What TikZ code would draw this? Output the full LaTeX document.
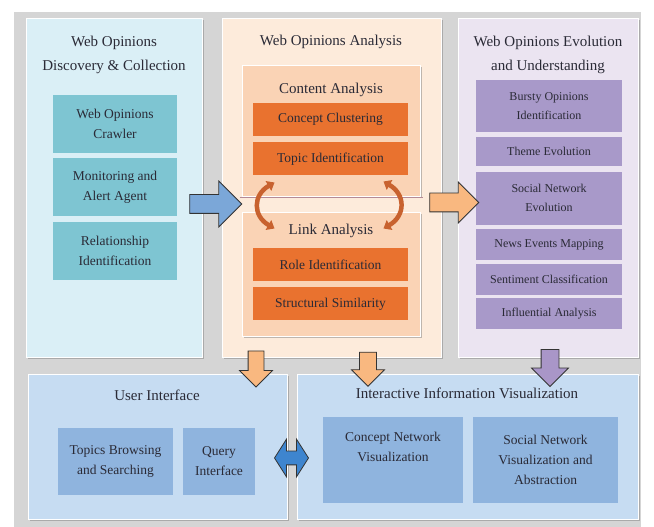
\documentclass[tikz,border=0pt]{standalone}
\usepackage{fontspec}
\setmainfont{Liberation Serif}
\usetikzlibrary{shapes.arrows,shadows,arrows.meta,positioning}

\definecolor{bggray}{HTML}{D5D5D5}
\definecolor{txtdark}{HTML}{2A2A36}
\definecolor{cyanpanel}{HTML}{DAEFF6}
\definecolor{tealbox}{HTML}{7EC5D2}
\definecolor{peachpanel}{HTML}{FDEBDB}
\definecolor{peachbox}{HTML}{FAD3B5}
\definecolor{orangebox}{HTML}{E9722F}
\definecolor{lilacpanel}{HTML}{EBE4F1}
\definecolor{purplebox}{HTML}{A899C9}
\definecolor{bluepanel}{HTML}{C6DCF2}
\definecolor{bluebox}{HTML}{8FB4DE}
\definecolor{arrblue}{HTML}{7BA7D8}
\definecolor{arrdeep}{HTML}{3E85CF}
\definecolor{arrorange}{HTML}{F9B880}
\definecolor{arrpurple}{HTML}{A996C8}
\definecolor{curvorange}{HTML}{C8622F}
\definecolor{mauve}{HTML}{B48A96}

\begin{document}
\begin{tikzpicture}[
    x=1pt, y=1pt,
    node distance=5pt,
    panel/.style={rectangle, draw=white, line width=1pt, drop shadow={shadow xshift=1.5pt, shadow yshift=-1.5pt, fill=black!50}},
    ttl/.style={align=center, text=txtdark, font=\fontsize{15}{24}\selectfont},
    item/.style={rectangle, align=center, inner sep=0pt, text=txtdark, font=\fontsize{13.5}{20}\selectfont},
    pitem/.style={item, fill=purplebox, minimum width=146pt, font=\fontsize{12}{19}\selectfont},
    oitem/.style={item, fill=orangebox, minimum width=155pt, minimum height=33pt},
    blkarrow/.style={single arrow, draw=black!80, line width=0.8pt},
    swirl/.style={line width=4.5pt, curvorange, {Triangle[width=11pt,length=7pt]}-{Triangle[width=11pt,length=7pt]}}
]
    % Frame
    \fill[white] (0,0) rectangle (654,527);
    \fill[bggray] (14,0) rectangle (641,515);
    \useasboundingbox (0,0) rectangle (654,527);

    % Discovery & collection
    \node[panel, fill=cyanpanel, minimum width=176pt, minimum height=339pt] (collect) at (114,338.5) {};
    \node[ttl] (collectT) at (114,472) {Web Opinions\\Discovery \& Collection};
    \node[item, fill=tealbox, minimum width=124pt, minimum height=58pt] (crawler) at (115,403) {Web Opinions\\Crawler};
    \node[item, fill=tealbox, minimum width=124pt, minimum height=58pt, below=of crawler] (monitor) {Monitoring and\\Alert Agent};
    \node[item, fill=tealbox, minimum width=124pt, minimum height=58pt, below=of monitor] (relation) {Relationship\\Identification};

    % Analysis
    \node[panel, fill=peachpanel, minimum width=219pt, minimum height=339pt] (analysis) at (331.5,338.5) {};
    \node[ttl] (analysisT) at (331,485) {Web Opinions Analysis};
    \node[panel, fill=peachbox, minimum width=178pt, minimum height=131pt] (content) at (331,395.5) {};
    \node[ttl] (contentT) at (331,437) {Content Analysis};
    \node[oitem] (cluster) at (330.5,407.5) {Concept Clustering};
    \node[oitem, below=6pt of cluster] (topic) {Topic Identification};
    \node[panel, fill=peachbox, minimum width=178pt, minimum height=124pt] (link) at (331,252) {};
    \node[ttl] (linkT) at (331,296) {Link Analysis};
    \node[oitem] (role) at (330.5,262.5) {Role Identification};
    \node[oitem, below=6pt of role] (struct) {Structural Similarity};
    \draw[mauve, line width=1.5pt] ([xshift=-2pt]content.south west) -- ([xshift=2pt]content.south east);
    \draw[swirl] ([shift={(33pt,15pt)}]content.south west) to[out=210, in=150, looseness=1.4] ([shift={(33pt,-16pt)}]link.north west);
    \draw[swirl] ([shift={(-37pt,16pt)}]content.south east) to[out=-30, in=30, looseness=1.4] ([shift={(-37pt,-16pt)}]link.north east);

    % Evolution & understanding
    \node[panel, fill=lilacpanel, minimum width=180pt, minimum height=339pt] (evolve) at (548,338.5) {};
    \node[ttl] (evolveT) at (548,472.5) {Web Opinions Evolution\\and Understanding};
    \node[pitem, minimum height=52pt] (bursty) at (549,421) {Bursty Opinions\\Identification};
    \node[pitem, minimum height=29pt, below=of bursty] (theme) {Theme Evolution};
    \node[pitem, minimum height=53pt, below=of theme] (social) {Social Network\\Evolution};
    \node[pitem, minimum height=31pt, below=4pt of social] (news) {News Events Mapping};
    \node[pitem, minimum height=31pt, below=3pt of news] (senti) {Sentiment Classification};
    \node[pitem, minimum height=31pt, below=3pt of senti] (influ) {Influential Analysis};

    % User interface
    \node[panel, fill=bluepanel, minimum width=259pt, minimum height=145pt] (ui) at (157.5,79.5) {};
    \node[ttl] (uiT) at (157,132) {User Interface};
    \node[item, fill=bluebox, minimum width=115pt, minimum height=67pt] (browse) at (115.5,65.5) {Topics Browsing\\and Searching};
    \node[item, fill=bluebox, minimum width=72pt, minimum height=67pt] (query) at (219,65.5) {Query\\Interface};

    % Visualization
    \node[panel, fill=bluepanel, minimum width=341pt, minimum height=145pt] (viz) at (467.5,79.5) {};
    \node[ttl] (vizT) at (467,134) {Interactive Information Visualization};
    \node[item, fill=bluebox, minimum width=140pt, minimum height=86pt] (cnv) at (393,67) {Concept Network\\Visualization\\\strut};
    \node[item, fill=bluebox, minimum width=145pt, minimum height=86pt] (snv) at (545.5,67) {Social Network\\Visualization and\\Abstraction};

    % Block arrows
    \node[blkarrow, fill=arrblue, inner sep=9pt, minimum height=52pt, minimum width=45pt, single arrow head extend=13.5pt] (toanalysis) at (211,323) {};
    \node[blkarrow, fill=arrorange, inner sep=9pt, minimum height=49pt, minimum width=40pt, single arrow head extend=11pt] (toevolve) at (449.5,324.5) {};
    \node[blkarrow, fill=arrorange, inner sep=7.5pt, minimum height=36pt, minimum width=32pt, single arrow head extend=8.5pt, shape border rotate=270] (toui) at (256,162) {};
    \node[blkarrow, fill=arrorange, inner sep=8pt, minimum height=34pt, minimum width=33pt, single arrow head extend=8pt, shape border rotate=270] (tovizA) at (368,162) {};
    \node[blkarrow, fill=arrpurple, inner sep=8.5pt, minimum height=37pt, minimum width=36pt, single arrow head extend=9.5pt, shape border rotate=270] (tovizB) at (550,163.5) {};
    \node[double arrow, draw=black!80, line width=0.8pt, inner sep=6.5pt, fill=arrdeep, minimum height=34pt, minimum width=37pt, double arrow head extend=12pt, double arrow tip angle=115] (uiviz) at (291.5,69) {};
\end{tikzpicture}
\end{document}
